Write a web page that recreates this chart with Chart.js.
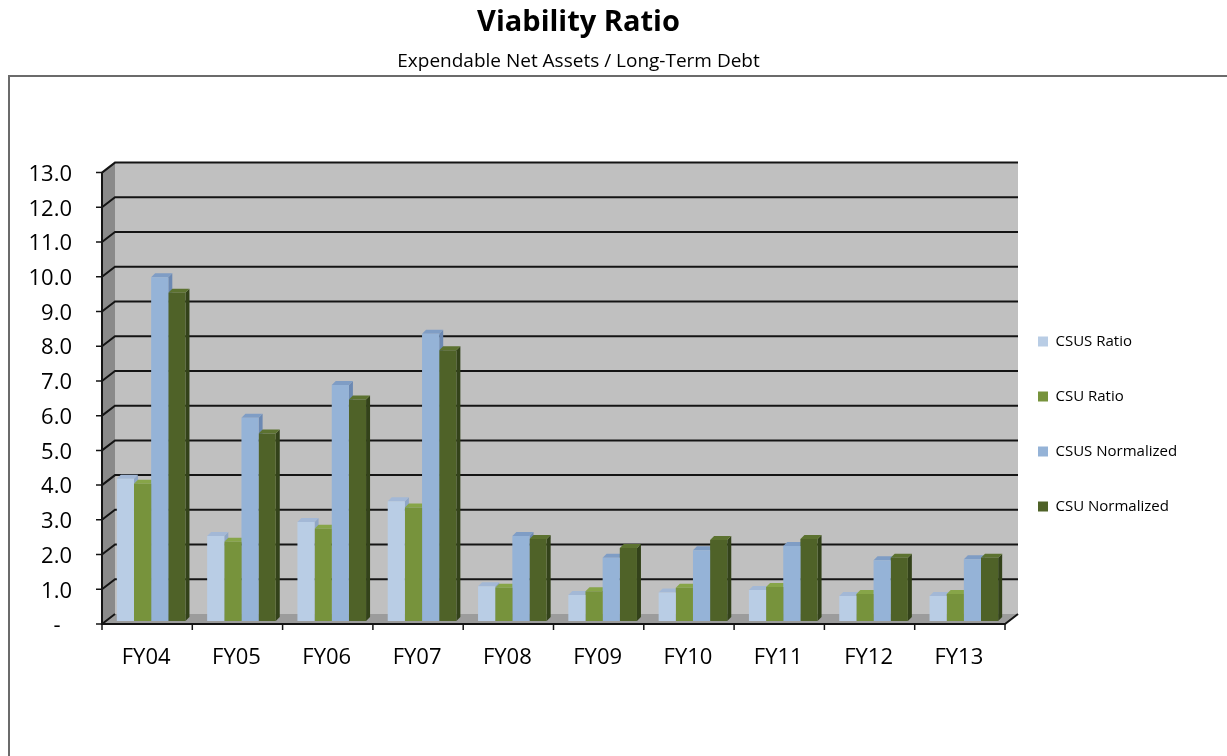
<!DOCTYPE html>
<html>
<head>
<meta charset="utf-8">
<title>Viability Ratio</title>
<script src="https://cdn.jsdelivr.net/npm/chart.js@4.4.1/dist/chart.umd.min.js"></script>
<style>
  html, body { margin: 0; padding: 0; background: #fff; }
  #wrap { width: 1227px; height: 756px; }
</style>
</head>
<body>
<div id="wrap"><canvas id="viabilityChart"></canvas></div>
<script>
const fiscalYears = ['FY04', 'FY05', 'FY06', 'FY07', 'FY08', 'FY09', 'FY10', 'FY11', 'FY12', 'FY13'];
const csusRatio = [4.1, 2.45, 2.85, 3.45, 1.0, 0.75, 0.82, 0.89, 0.72, 0.72];
const csuRatio = [3.95, 2.28, 2.66, 3.27, 0.96, 0.86, 0.96, 0.98, 0.78, 0.78];
const csusNormalized = [9.9, 5.85, 6.8, 8.27, 2.45, 1.82, 2.04, 2.16, 1.75, 1.78];
const csuNormalized = [9.45, 5.4, 6.38, 7.8, 2.36, 2.1, 2.33, 2.36, 1.82, 1.82];
const yMax = 13;

const FONT = "'Open Sans', 'DejaVu Sans', sans-serif";

// front / top / side colours of each 3D bar
const faces = [
    { front: '#b9cde5', top: '#a3b8d6', side: '#8fa6c6' },
    { front: '#77933c', top: '#87a548', side: '#5a7128' },
    { front: '#95b3d7', top: '#7f9dc5', side: '#6c89b3' },
    { front: '#4f6228', top: '#5c7230', side: '#33421a' }
];

// wall depth (from the front edge of the floor to the back wall)
const WALL_DX = 13, WALL_DY = -10;
// depth of the bars themselves
const BAR_DX = 4, BAR_DY = -4;

function poly(ctx, pts, fill) {
    ctx.beginPath();
    ctx.moveTo(pts[0][0], pts[0][1]);
    for (let i = 1; i < pts.length; i++) ctx.lineTo(pts[i][0], pts[i][1]);
    ctx.closePath();
    ctx.fillStyle = fill;
    ctx.fill();
}

const depth3d = {
    id: 'depth3d',
    beforeDraw(chart) {
        // outer frame
        const ctx = chart.ctx;
        ctx.save();
        ctx.strokeStyle = '#6b6b6b';
        ctx.lineWidth = 2;
        ctx.beginPath();
        ctx.moveTo(9, chart.height);
        ctx.lineTo(9, 76);
        ctx.lineTo(chart.width, 76);
        ctx.stroke();
        ctx.restore();
    },
    afterLayout(chart) {
        // legend sits a bit closer to the plot and lower than the default,
        // and gets enough width so the labels are not clipped
        const lg = chart.legend;
        lg.left = chart.chartArea.right - 11;
        lg.right = lg.left + 220;
        lg.width = 220;
        lg.top += 46;
        lg.bottom += 46;
    },
    beforeDatasetsDraw(chart) {
        const { ctx, chartArea: a, scales: { x, y } } = chart;
        const fx0 = a.left - 4, fx1 = a.right - 4;
        const fy = v => y.getPixelForValue(v) + 3;     // front edge
        const by = v => fy(v) + WALL_DY;               // back wall
        const y0 = fy(0), yT = fy(yMax);

        ctx.save();
        // back wall
        poly(ctx, [[fx0 + WALL_DX, by(yMax)], [fx1 + WALL_DX, by(yMax)], [fx1 + WALL_DX, by(0)], [fx0 + WALL_DX, by(0)]], '#c0c0c0');
        // left side wall
        poly(ctx, [[fx0, y0], [fx0, yT], [fx0 + WALL_DX, by(yMax)], [fx0 + WALL_DX, by(0)]], '#8a8a8a');
        // floor
        poly(ctx, [[fx0, y0], [fx1, y0], [fx1 + WALL_DX, by(0)], [fx0 + WALL_DX, by(0)]], '#9c9c9c');

        // grid lines on the back wall and the side wall
        ctx.strokeStyle = '#141414';
        ctx.lineWidth = 2;
        for (let v = 1; v <= yMax; v++) {
            ctx.beginPath();
            ctx.moveTo(fx0, fy(v));
            ctx.lineTo(fx0 + WALL_DX, by(v));
            ctx.lineTo(fx1 + WALL_DX, by(v));
            ctx.stroke();
        }

        // axis lines and tick marks
        ctx.beginPath();
        ctx.moveTo(fx0, yT);
        ctx.lineTo(fx0, y0);
        ctx.lineTo(fx1, y0);
        ctx.lineTo(fx1 + WALL_DX, by(0));
        ctx.moveTo(fx0, y0);
        ctx.lineTo(fx0 + WALL_DX, by(0));
        ctx.stroke();
        ctx.lineWidth = 1.5;
        ctx.beginPath();
        for (let v = 0; v <= yMax; v++) {
            ctx.moveTo(fx0 - 6, fy(v));
            ctx.lineTo(fx0, fy(v));
        }
        const step = (fx1 - fx0) / fiscalYears.length;
        for (let i = 0; i <= fiscalYears.length; i++) {
            ctx.moveTo(fx0 + i * step, y0);
            ctx.lineTo(fx0 + i * step, y0 + 6);
        }
        ctx.stroke();

        // top and side faces of each bar, the front faces are drawn over them
        chart.data.datasets.forEach((ds, di) => {
            const meta = chart.getDatasetMeta(di);
            meta.data.forEach(el => {
                const xl = el.x - el.width / 2, xr = el.x + el.width / 2;
                poly(ctx, [[xr, el.y], [xr + BAR_DX, el.y + BAR_DY], [xr + BAR_DX, el.base + BAR_DY], [xr, el.base]], faces[di].side);
                poly(ctx, [[xl, el.y], [xl + BAR_DX, el.y + BAR_DY], [xr + BAR_DX, el.y + BAR_DY], [xr, el.y]], faces[di].top);
            });
        });
        ctx.restore();
    }
};

const seriesNames = ['CSUS Ratio', 'CSU Ratio', 'CSUS Normalized', 'CSU Normalized'];
const seriesValues = [csusRatio, csuRatio, csusNormalized, csuNormalized];

const ctx = document.getElementById('viabilityChart').getContext('2d');
const viabilityChart = new Chart(ctx, {
    type: 'bar',
    data: {
        labels: fiscalYears,
        datasets: seriesNames.map((name, i) => ({
            label: name,
            data: seriesValues[i],
            backgroundColor: faces[i].front,
            borderWidth: 0,
            categoryPercentage: 0.76,
            barPercentage: 1.0
        }))
    },
    options: {
        responsive: true,
        maintainAspectRatio: false,
        animation: false,
        layout: { padding: { left: 0, top: 0, bottom: 0, right: 70 } },
        scales: {
            x: {
                ticks: { padding: 24, labelOffset: -5, color: '#000', font: { family: FONT, size: 22 } },
                grid: { display: false, drawTicks: false },
                border: { display: false },
                afterFit(s) { s.height = 135; }
            },
            y: {
                min: 0,
                max: yMax,
                ticks: {
                    stepSize: 1,
                    autoSkip: false,
                    padding: 34,
                    labelOffset: 5,
                    color: '#000',
                    font: { family: FONT, size: 22 },
                    callback: v => v === 0 ? '-  ' : v.toFixed(1)
                },
                grid: { display: false, drawTicks: false },
                border: { display: false },
                afterFit(s) { s.width = 106; }
            },
            // empty axis, only keeps room between the plot and the legend
            gap: {
                position: 'right',
                display: true,
                ticks: { display: false },
                grid: { display: false, drawTicks: false },
                border: { display: false },
                afterFit(s) { s.width = 28; }
            }
        },
        plugins: {
            title: {
                display: true,
                text: 'Viability Ratio',
                color: '#000',
                font: { family: FONT, size: 29, weight: 'bold' },
                padding: { top: 5, bottom: 4 }
            },
            subtitle: {
                display: true,
                text: 'Expendable Net Assets / Long-Term Debt',
                color: '#000',
                font: { family: FONT, size: 19 },
                padding: { top: 6, bottom: 97 }
            },
            legend: {
                position: 'right',
                maxWidth: 120,
                labels: {
                    boxWidth: 10,
                    boxHeight: 10,
                    padding: 40,
                    color: '#000',
                    font: { family: FONT, size: 15 }
                }
            },
            tooltip: { enabled: false }
        }
    },
    plugins: [depth3d]
});
</script>
</body>
</html>
